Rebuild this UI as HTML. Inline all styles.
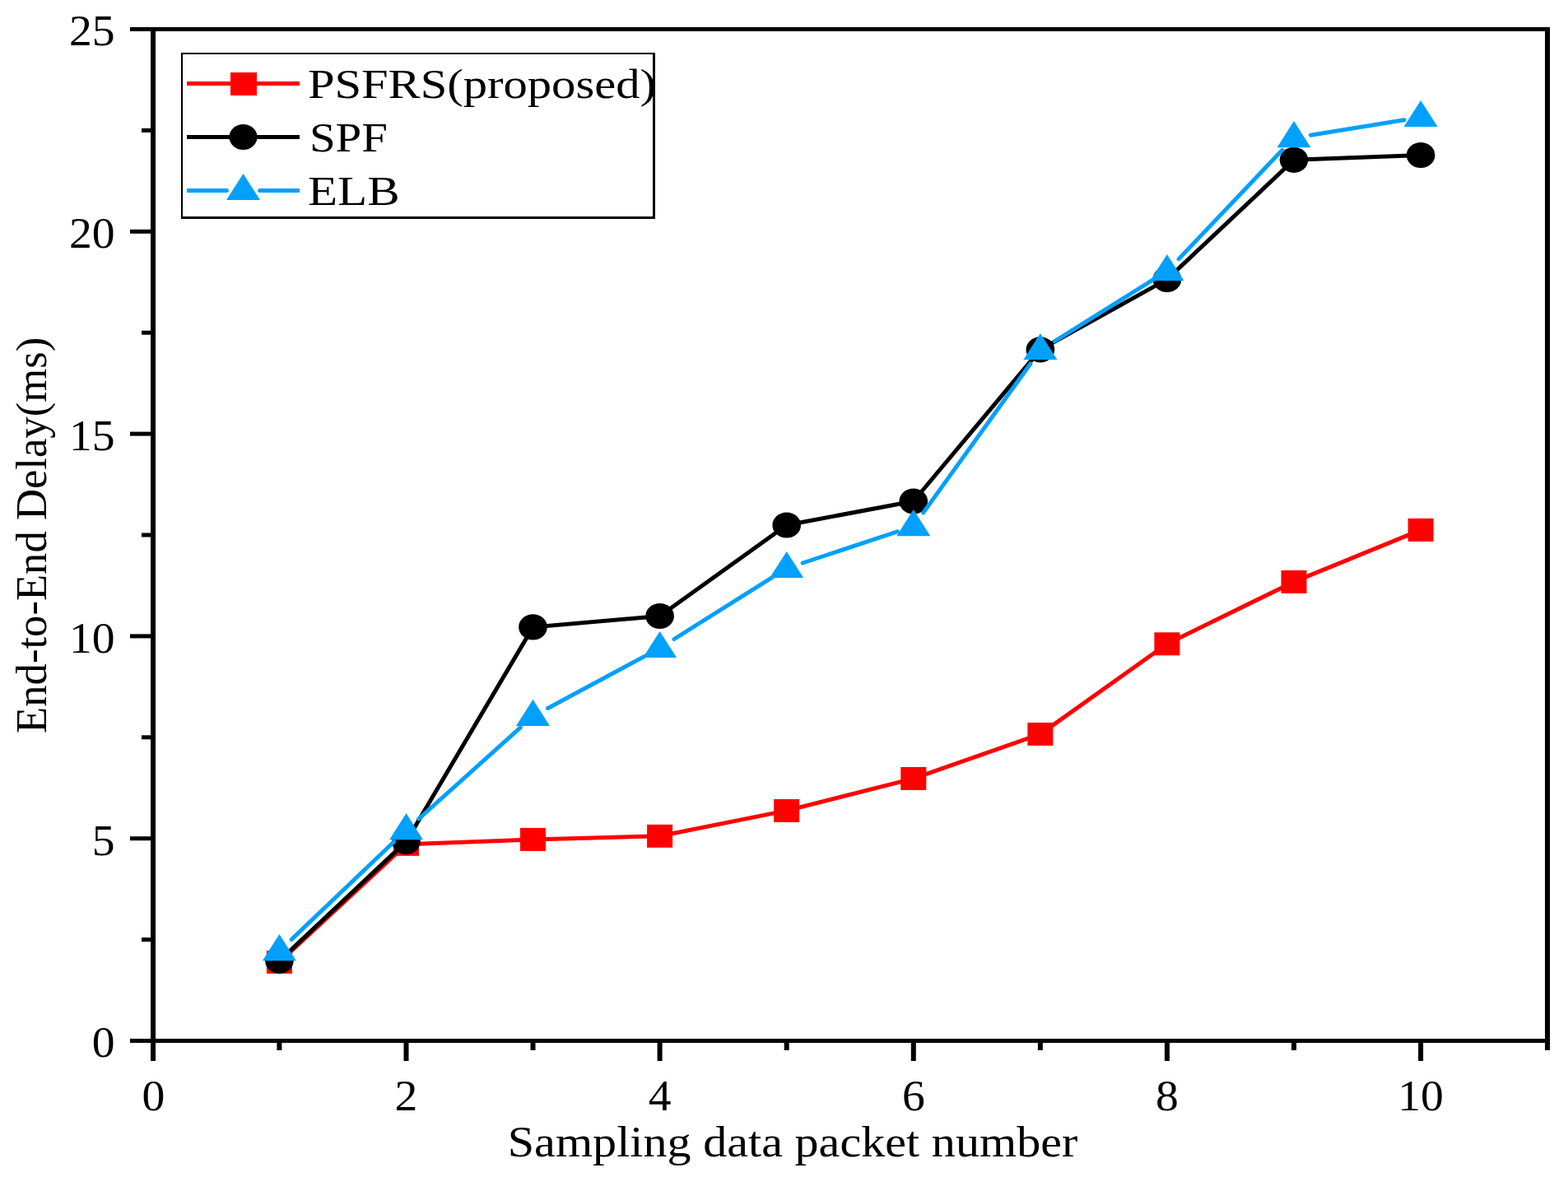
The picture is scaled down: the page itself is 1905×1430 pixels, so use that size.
<!DOCTYPE html><html><head><meta charset="utf-8"><title>End-to-End Delay</title><style>html,body{margin:0;padding:0;background:#fff;}svg{display:block;}text{font-family:"Liberation Serif","Times New Roman",serif;fill:#000;}</style></head><body><svg width="1905" height="1430" viewBox="0 0 1905 1430"><rect x="0" y="0" width="1905" height="1430" fill="#fff"/><polyline fill="none" stroke="#ff0000" stroke-width="5" stroke-linejoin="round" stroke-linecap="round" points="339.4,1168.9 493.5,1025.8 647.5,1019.9 801.6,1015.8 955.7,984.9 1109.8,945.9 1263.9,891.9 1417.9,782.3 1572.0,706.9 1726.1,643.9"/><rect x="323.9" y="1154.9" width="31" height="28" fill="#ff0000"/><rect x="478.0" y="1011.8" width="31" height="28" fill="#ff0000"/><rect x="632.0" y="1005.9" width="31" height="28" fill="#ff0000"/><rect x="786.1" y="1001.8" width="31" height="28" fill="#ff0000"/><rect x="940.2" y="970.9" width="31" height="28" fill="#ff0000"/><rect x="1094.3" y="931.9" width="31" height="28" fill="#ff0000"/><rect x="1248.4" y="877.9" width="31" height="28" fill="#ff0000"/><rect x="1402.4" y="768.3" width="31" height="28" fill="#ff0000"/><rect x="1556.5" y="692.9" width="31" height="28" fill="#ff0000"/><rect x="1710.6" y="629.9" width="31" height="28" fill="#ff0000"/><polyline fill="none" stroke="#000000" stroke-width="5" stroke-linejoin="round" stroke-linecap="round" points="339.4,1167.3 493.5,1022.4 647.5,761.9 801.6,748.5 955.7,638.0 1109.8,609.0 1263.9,424.8 1417.9,339.4 1572.0,194.3 1726.1,188.5"/><ellipse cx="339.4" cy="1167.3" rx="17.3" ry="15.6" fill="#000000"/><ellipse cx="493.5" cy="1022.4" rx="17.3" ry="15.6" fill="#000000"/><ellipse cx="647.5" cy="761.9" rx="17.3" ry="15.6" fill="#000000"/><ellipse cx="801.6" cy="748.5" rx="17.3" ry="15.6" fill="#000000"/><ellipse cx="955.7" cy="638.0" rx="17.3" ry="15.6" fill="#000000"/><ellipse cx="1109.8" cy="609.0" rx="17.3" ry="15.6" fill="#000000"/><ellipse cx="1263.9" cy="424.8" rx="17.3" ry="15.6" fill="#000000"/><ellipse cx="1417.9" cy="339.4" rx="17.3" ry="15.6" fill="#000000"/><ellipse cx="1572.0" cy="194.3" rx="17.3" ry="15.6" fill="#000000"/><ellipse cx="1726.1" cy="188.5" rx="17.3" ry="15.6" fill="#000000"/><line x1="354.2" y1="1141.4" x2="478.6" y2="1022.7" stroke="#00a0ff" stroke-width="5" stroke-linecap="round"/><line x1="508.7" y1="994.9" x2="632.3" y2="883.9" stroke="#00a0ff" stroke-width="5" stroke-linecap="round"/><line x1="665.6" y1="860.5" x2="783.6" y2="797.1" stroke="#00a0ff" stroke-width="5" stroke-linecap="round"/><line x1="819.0" y1="776.5" x2="938.4" y2="701.3" stroke="#00a0ff" stroke-width="5" stroke-linecap="round"/><line x1="975.2" y1="684.0" x2="1090.3" y2="645.9" stroke="#00a0ff" stroke-width="5" stroke-linecap="round"/><line x1="1121.8" y1="622.9" x2="1251.9" y2="442.0" stroke="#00a0ff" stroke-width="5" stroke-linecap="round"/><line x1="1281.3" y1="414.6" x2="1400.5" y2="340.2" stroke="#00a0ff" stroke-width="5" stroke-linecap="round"/><line x1="1432.1" y1="314.6" x2="1557.9" y2="182.3" stroke="#00a0ff" stroke-width="5" stroke-linecap="round"/><line x1="1592.3" y1="164.2" x2="1705.9" y2="145.7" stroke="#00a0ff" stroke-width="5" stroke-linecap="round"/><polygon points="339.4,1135.0 359.9,1167.2 318.9,1167.2" fill="#00a0ff"/><polygon points="493.5,988.1 514.0,1020.3 473.0,1020.3" fill="#00a0ff"/><polygon points="647.5,849.7 668.0,881.9 627.0,881.9" fill="#00a0ff"/><polygon points="801.6,766.9 822.1,799.1 781.1,799.1" fill="#00a0ff"/><polygon points="955.7,669.9 976.2,702.1 935.2,702.1" fill="#00a0ff"/><polygon points="1109.8,619.0 1130.3,651.2 1089.3,651.2" fill="#00a0ff"/><polygon points="1263.9,404.9 1284.4,437.1 1243.4,437.1" fill="#00a0ff"/><polygon points="1417.9,308.9 1438.4,341.1 1397.4,341.1" fill="#00a0ff"/><polygon points="1572.0,147.0 1592.5,179.2 1551.5,179.2" fill="#00a0ff"/><polygon points="1726.1,121.9 1746.6,154.1 1705.6,154.1" fill="#00a0ff"/><g fill="#000"><rect x="183" y="33" width="1700" height="5"/><rect x="183" y="1262" width="1700" height="5"/><rect x="183" y="33" width="6" height="1234"/><rect x="1877" y="33" width="6" height="1234"/><rect x="158" y="1262.0" width="28" height="5"/><rect x="172" y="1139.1" width="14" height="5"/><rect x="158" y="1016.2" width="28" height="5"/><rect x="172" y="893.3" width="14" height="5"/><rect x="158" y="770.4" width="28" height="5"/><rect x="172" y="647.5" width="14" height="5"/><rect x="158" y="524.6" width="28" height="5"/><rect x="172" y="401.7" width="14" height="5"/><rect x="158" y="278.8" width="28" height="5"/><rect x="172" y="155.9" width="14" height="5"/><rect x="158" y="33.0" width="28" height="5"/><rect x="183.0" y="1264" width="6" height="25"/><rect x="336.4" y="1264" width="6" height="12"/><rect x="490.5" y="1264" width="6" height="25"/><rect x="644.5" y="1264" width="6" height="12"/><rect x="798.6" y="1264" width="6" height="25"/><rect x="952.7" y="1264" width="6" height="12"/><rect x="1106.8" y="1264" width="6" height="25"/><rect x="1260.9" y="1264" width="6" height="12"/><rect x="1414.9" y="1264" width="6" height="25"/><rect x="1569.0" y="1264" width="6" height="12"/><rect x="1723.1" y="1264" width="6" height="25"/><rect x="1877.0" y="1264" width="6" height="12"/></g><text transform="translate(139.6,1284.3) scale(1.070,1)" font-size="52" text-anchor="end">0</text><text transform="translate(139.6,1038.5) scale(1.070,1)" font-size="52" text-anchor="end">5</text><text transform="translate(139.6,792.7) scale(1.070,1)" font-size="52" text-anchor="end">10</text><text transform="translate(139.6,546.9) scale(1.070,1)" font-size="52" text-anchor="end">15</text><text transform="translate(139.6,301.1) scale(1.070,1)" font-size="52" text-anchor="end">20</text><text transform="translate(139.6,55.3) scale(1.070,1)" font-size="52" text-anchor="end">25</text><text transform="translate(186.3,1348.6) scale(1.070,1)" font-size="52" text-anchor="middle">0</text><text transform="translate(493.5,1348.6) scale(1.070,1)" font-size="52" text-anchor="middle">2</text><text transform="translate(801.6,1348.6) scale(1.070,1)" font-size="52" text-anchor="middle">4</text><text transform="translate(1109.8,1348.6) scale(1.070,1)" font-size="52" text-anchor="middle">6</text><text transform="translate(1417.9,1348.6) scale(1.070,1)" font-size="52" text-anchor="middle">8</text><text transform="translate(1726.1,1348.6) scale(1.070,1)" font-size="52" text-anchor="middle">10</text><text transform="translate(616.75,1404.8) scale(1.0973,1)" font-size="53">Sampling data packet number</text><text transform="translate(56,890.93) rotate(-90) scale(0.9938,1)" font-size="53">End-to-End Delay(ms)</text><g fill="#000"><rect x="220" y="64" width="2" height="202"/><rect x="220" y="64" width="576" height="2"/><rect x="793" y="64" width="3" height="202"/><rect x="220" y="263" width="576" height="3"/></g><rect x="227" y="99" width="137" height="5" fill="#ff0000"/><rect x="280" y="88" width="32" height="28" fill="#ff0000"/><rect x="227" y="164" width="137" height="5" fill="#000000"/><ellipse cx="295.5" cy="166.5" rx="17" ry="15.6" fill="#000000"/><line x1="227" y1="231.4" x2="275.3" y2="231.4" stroke="#00a0ff" stroke-width="5"/><line x1="275.3" y1="231.4" x2="275.4" y2="231.4" stroke="#00a0ff" stroke-width="5" stroke-linecap="round"/><line x1="315.7" y1="231.4" x2="364" y2="231.4" stroke="#00a0ff" stroke-width="5"/><line x1="315.6" y1="231.4" x2="315.7" y2="231.4" stroke="#00a0ff" stroke-width="5" stroke-linecap="round"/><polygon points="295.5,210.9 316,243.1 275,243.1" fill="#00a0ff"/><text transform="translate(373.90,119.1) scale(1.1374,1)" font-size="51.5">PSFRS(proposed)</text><text transform="translate(375.93,183.8) scale(1.1067,1)" font-size="51.5">SPF</text><text transform="translate(373.89,249) scale(1.1485,1)" font-size="51.5">ELB</text></svg></body></html>
